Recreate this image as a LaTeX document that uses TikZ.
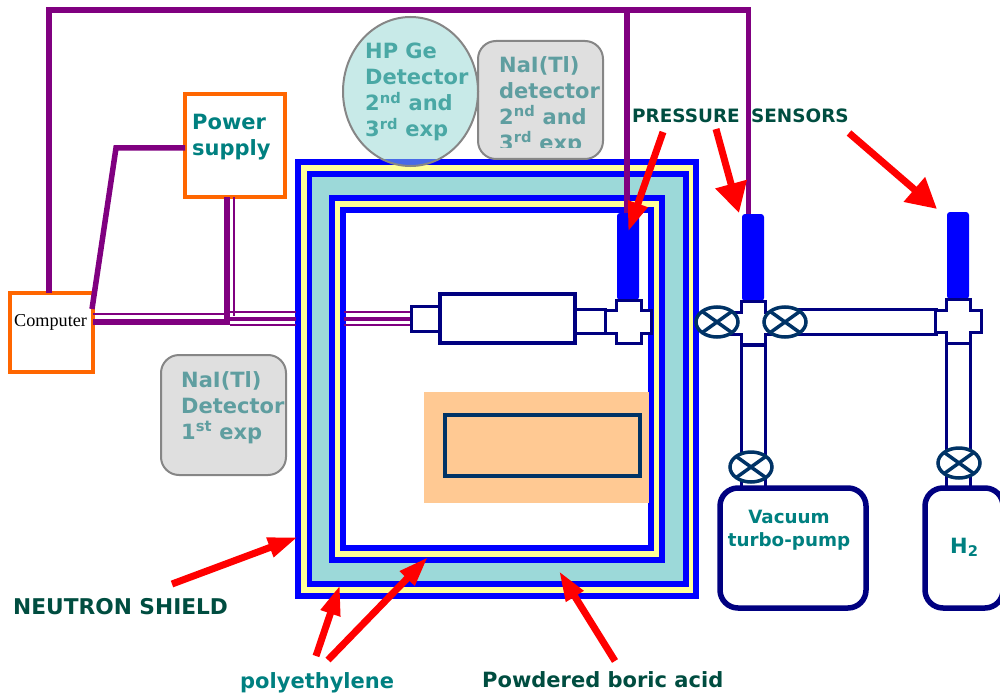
\documentclass[tikz,border=0pt]{standalone}
\usepackage{fontspec}
\setmainfont{DejaVu Sans}
\newfontfamily\timesfont{Liberation Serif}
\usetikzlibrary{arrows.meta,shapes.geometric}
\definecolor{wirepurple}{HTML}{800080}
\definecolor{shieldteal}{HTML}{9CD9D9}
\definecolor{shieldyellow}{HTML}{FFFF99}
\definecolor{targetorange}{HTML}{FFC993}
\definecolor{boxorange}{HTML}{FF6600}
\definecolor{valveblue}{HTML}{003366}
\definecolor{tealtext}{HTML}{008080}
\definecolor{darktext}{HTML}{004D40}
\definecolor{naitext}{HTML}{5F9EA0}
\definecolor{getext}{HTML}{4AA8A5}
\colorlet{navy}{blue!50!black}
\tikzset{
  wire/.style={wirepurple,line width=5.5pt},
  thinwire/.style={wirepurple,line width=2.4pt},
  orangebox/.style={draw=boxorange,line width=4pt,fill=white,outer sep=0pt},
  tube/.style={draw=navy,line width=3pt,fill=white},
  sensor/.style={fill=blue,rounded corners=3pt,minimum width=22pt,minimum height=87pt,outer sep=0pt},
  valve/.style={ellipse,draw=valveblue,line width=3.5pt,fill=white,minimum width=42pt,minimum height=30pt,inner sep=0pt,
    path picture={\draw[valveblue,line width=3.5pt]
      (path picture bounding box.north west) -- (path picture bounding box.south east)
      (path picture bounding box.north east) -- (path picture bounding box.south west);}},
  tank/.style={draw=navy,line width=5.5pt,fill=white,rounded corners=18pt,outer sep=0pt},
  detector/.style={draw=gray!95,line width=2pt,fill=gray!25,rounded corners=18pt,outer sep=0pt},
  label/.style={font=\bfseries\fontsize{21}{26}\selectfont,inner sep=0pt},
  redarrow/.style={red,line width=7pt,-{Triangle[length=30pt,width=19pt]}},
  widearrow/.style={red,line width=7pt,-{Triangle[length=30pt,width=31pt]}}
}
\begin{document}
\begin{tikzpicture}[x=1pt,y=-1pt]
  \useasboundingbox (0,0) rectangle (1000,695);
  % Nested shield layers, outermost first.
  \foreach \xa/\ya/\xb/\yb/\col in {295/159/699/599/blue,301/165/693/593/shieldyellow,
    307/171/689/587/blue,312/177/683/581/shieldteal,329/195/665/563/blue,
    335/201/659/557/shieldyellow,340/207/654/551/blue,346/213/648/545/white}
    \fill[\col] (\xa,\ya) rectangle (\xb,\yb);
  \fill[targetorange] (424,392) rectangle (649,503);
  \draw[valveblue,line width=3.5pt] (445,415) rectangle (640,476);
  % Computer and power supply.
  \node[orangebox,minimum width=83pt,minimum height=79pt] (computer) at (51.5,332.5) {};
  \node[orangebox,minimum width=100pt,minimum height=103pt] (power) at (235,145.5) {};
  \node[font=\timesfont\fontsize{18.2}{22}\selectfont,inner sep=0pt,anchor=base west] (computertext) at (14,326) {Computer};
  \node[label,align=left,anchor=north west,text=tealtext] (powertext) at (192,114) {Power\\supply};
  % Signal bus along the top.
  \coordinate (busleft) at (49,10);
  \coordinate (busmid) at (627,10);
  \coordinate (busright) at (748.5,10);
  \coordinate (bend) at (116,148);
  \coordinate (powerdown) at (227,322);
  \coordinate (powerthin) at (234,316);
  \coordinate (shieldout) at (296,319);
  \coordinate (shieldin) at (344,319);
  % Vacuum line.
  \node[sensor] (sensora) at (628,256.5) {};
  \node[sensor] (sensorb) at (753,257.5) {};
  \node[sensor] (sensorc) at (958,255.5) {};
  \draw[wire] (computer.north -| busleft) -- (busleft) -- (busright) -- (busright |- sensorb.north);
  \draw[wire] (busmid) -- (busmid |- sensora.north);
  \draw[wire] (power.west |- bend) -- (bend) -- (92,309);
  \draw[wire,line width=6.5pt] (power.south -| powerdown) -- (powerdown) -- (computer.east |- powerdown);
  \draw[thinwire] (power.south -| powerthin) -- (powerthin);
  \draw[thinwire] (powerdown |- 0,314) -- (computer.east |- 0,314);
  % Cables run through the shield.
  \foreach \h/\w in {312/2.4,319/4.5,325/2.4} {
    \draw[wirepurple,line width=\w pt] (230,\h) -- (shieldout |- 0,\h);
    \draw[wirepurple,line width=\w pt] (shieldin |- 0,\h) -- (411,\h);
  }
  % Chamber and pipe work.
  \draw[tube] (411,306) rectangle (440,331);
  \draw[tube,line width=3.5pt] (440,294) rectangle (575,343);
  \draw[tube] (575,309) rectangle (605,333);
  \draw[tube] (741,345) rectangle (765,489);
  \draw[tube] (946,343) rectangle (970,489);
  \draw[tube] (790,309) rectangle (936,334);
  \draw[tube] (616,300) -- (641,300) -- (641,310) -- (651,310) -- (651,333) -- (641,333)
    -- (641,343) -- (616,343) -- (616,333) -- (605,333) -- (605,310) -- (616,310) -- cycle;
  \draw[tube] (741,301) -- (765,301) -- (765,312) -- (778,312) -- (778,334) -- (765,334)
    -- (765,345) -- (741,345) -- (741,334) -- (728,334) -- (728,312) -- (741,312) -- cycle;
  \draw[navy,line width=3.5pt] (741,345) -- (765,345);
  \draw[tube] (946,299) -- (970,299) -- (970,310) -- (981,310) -- (981,332) -- (970,332)
    -- (970,343) -- (946,343) -- (946,332) -- (935,332) -- (935,310) -- (946,310) -- cycle;
  \node[valve] (valvea) at (717,322) {};
  \node[valve] (valveb) at (785,322) {};
  \node[valve] (valvec) at (751,467) {};
  \node[valve] (valved) at (959,463) {};
  % Pump and gas bottle.
  \node[tank,minimum width=146pt,minimum height=120pt] (pump) at (793,548) {};
  \node[tank,minimum width=78pt,minimum height=120pt] (bottle) at (964,548) {};
  \node[label,font=\bfseries\fontsize{18.3}{23}\selectfont,align=center,anchor=north,text=tealtext] (pumptext) at (789,510) {Vacuum\\turbo-pump};
  \node[label,anchor=base west,text=tealtext] (bottletext) at (950,553) {H\textsubscript{2}};
  % Detectors, drawn over the shield.
  \node[detector,minimum width=125pt,minimum height=120pt] (naia) at (223.5,415) {};
  \node[detector,minimum width=125pt,minimum height=118pt] (naib) at (540.5,100) {};
  \node[ellipse,draw=gray!95,line width=2pt,fill={rgb,255:red,146;green,213;blue,209},fill opacity=0.5,
    minimum width=135pt,minimum height=149pt,inner sep=0pt] (hpge) at (410.5,91.5) {};
  \node[label,align=left,anchor=north west,text=naitext] (naiatext) at (181,371) {NaI(Tl)\\Detector\\1\textsuperscript{st} exp};
  \begin{scope}
    \clip (470,30) rectangle (610,148);
    \node[label,align=left,anchor=north west,text=naitext] (naibtext) at (499,56) {NaI(Tl)\\detector\\2\textsuperscript{nd} and\\3\textsuperscript{rd} exp};
  \end{scope}
  \node[label,align=left,anchor=north west,text=getext] (hpgetext) at (365,43) {HP Ge\\Detector\\2\textsuperscript{nd} and\\3\textsuperscript{rd} exp};
  % Captions and the red pointers.
  \node[label,font=\bfseries\fontsize{21.7}{26}\selectfont,anchor=base west,text=darktext] (shieldtext) at (13,614) {NEUTRON SHIELD};
  \node[label,anchor=base west,text=tealtext] (polytext) at (240,688) {polyethylene};
  \node[label,anchor=base west,text=darktext] (borictext) at (482,687) {Powdered boric acid};
  \node[label,font=\bfseries\fontsize{18.4}{23}\selectfont,anchor=base west,text=darktext] (sensortext) at (632,123) {PRESSURE\hspace{5pt} SENSORS};
  \coordinate (shieldfrom) at (172,584);
  \coordinate (shieldtip) at (298,537);
  \coordinate (polyfroma) at (316,656);
  \coordinate (polytipa) at (340,585);
  \coordinate (polyfromb) at (328,660);
  \coordinate (polytipb) at (428,557);
  \coordinate (boricfrom) at (615,661);
  \coordinate (borictip) at (559,571);
  \coordinate (pressfroma) at (663,132);
  \coordinate (presstipa) at (628,232);
  \coordinate (pressfromb) at (716,129);
  \coordinate (presstipb) at (739,213);
  \coordinate (pressfromc) at (849,133);
  \coordinate (presstipc) at (937,209);
  \foreach \a/\b in {shieldfrom/shieldtip,polyfroma/polytipa,polyfromb/polytipb,boricfrom/borictip,pressfroma/presstipa}
    \draw[redarrow] (\a) -- (\b);
  \foreach \a/\b in {pressfromb/presstipb,pressfromc/presstipc}
    \draw[widearrow] (\a) -- (\b);
\end{tikzpicture}
\end{document}
